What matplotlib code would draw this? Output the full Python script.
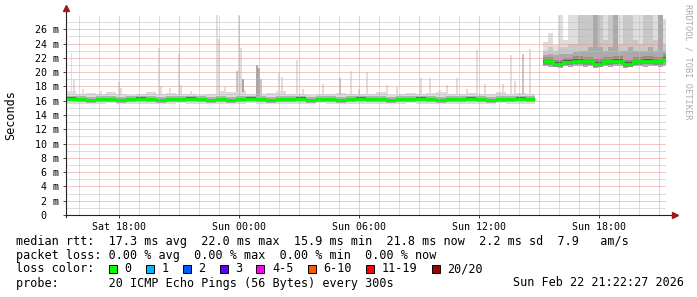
import numpy as np
import matplotlib.pyplot as plt
from matplotlib.patches import Rectangle

W, H = 697, 297
MONO = "DejaVu Sans Mono"

# ---- data (hours since Sat 15:22:27, values in ms) ----
label_hours = [2.626, 8.626, 14.626, 20.626, 26.626]
hour_labels = ["Sat 18:00", "Sun 00:00", "Sun 06:00", "Sun 12:00", "Sun 18:00"]
first_full_hour = 0.626

y_ticks = list(range(0, 27, 2))
y_labels = ["0  "] + ["%d m" % v for v in y_ticks[1:]]

# first segment: 30 min bins, Sat 15:22 .. Sun 14:49
seg_a_end = 23.45
median_a = [16.3, 16.2, 16.1, 16.2, 16.2, 16.1, 16.2, 16.3, 16.2, 16.1,
            16.2, 16.2, 16.3, 16.2, 16.1, 16.2, 16.1, 16.2, 16.3, 16.2,
            16.1, 16.2, 16.2, 16.3, 16.1, 16.2, 16.2, 16.1, 16.2, 16.3,
            16.2, 16.2, 16.1, 16.2, 16.2, 16.3, 16.2, 16.1, 16.2, 16.2,
            16.3, 16.2, 16.1, 16.2, 16.2, 16.3, 16.2]
smoke_lo_a = [15.6, 15.5, 15.6, 15.6, 15.7, 15.5, 15.6, 15.6, 15.5, 15.6,
              15.6, 15.7, 15.6, 15.5, 15.6, 15.6, 15.5, 15.6, 15.7, 15.6,
              15.5, 15.6, 15.6, 15.6, 15.5, 15.7, 15.6, 15.6, 15.5, 15.6,
              15.6, 15.6, 15.5, 15.6, 15.7, 15.6, 15.6, 15.5, 15.6, 15.6,
              15.5, 15.6, 15.6, 15.7, 15.6, 15.5, 15.6]
smoke_hi_a = [17.3, 17.0, 17.1, 16.9, 17.2, 16.9, 16.8, 17.0, 17.2, 16.9,
              17.1, 16.9, 17.0, 16.8, 17.0, 17.4, 17.2, 17.5, 17.0, 16.9,
              17.1, 17.3, 16.9, 17.0, 16.8, 17.0, 16.9, 17.1, 17.0, 16.9,
              16.9, 17.2, 16.8, 17.0, 17.1, 16.9, 17.1, 17.2, 16.9, 17.0,
              17.1, 16.9, 17.0, 17.2, 17.0, 17.1, 16.9]

# single 5 minute spikes in the first segment
spike_hours = [0.23, 0.35, 0.8, 1.7, 2.6, 2.7, 4.6, 4.7, 5.15, 5.6,
               5.7, 6.2, 7.5, 7.6, 7.9, 8.5, 8.6, 8.7, 8.8, 9.5,
               9.6, 9.7, 10.6, 10.75, 11.5, 11.8, 12.8, 13.65, 14.2, 14.6,
               15.0, 16.0, 16.5, 17.7, 18.15, 18.65, 19.0, 19.5, 20.0, 20.5,
               20.9, 21.8, 22.2, 22.4, 22.8, 23.15]
spike_tops = [22.7, 18.9, 17.6, 17.4, 18.6, 17.8, 23.4, 18.0, 17.8, 22.7,
              18.2, 17.4, 28.0, 24.6, 17.9, 20.2, 28.0, 23.4, 19.0, 21.0,
              20.6, 19.0, 19.9, 19.3, 21.7, 17.6, 18.3, 19.2, 20.2, 17.6,
              20.0, 18.2, 17.9, 19.2, 19.2, 17.5, 18.2, 19.2, 17.6, 23.1,
              18.3, 18.3, 22.4, 18.8, 22.6, 23.2]
spike_pings = [1, 1, 1, 1, 1, 1, 1, 1, 1, 1,
               1, 1, 1, 1, 1, 2, 1, 1, 3, 3,
               3, 2, 1, 1, 1, 1, 1, 2, 1, 1,
               1, 1, 1, 1, 1, 1, 1, 1, 1, 1,
               1, 1, 1, 1, 2, 1]

# second segment: after the gap, Sun 15:13 .. 21:22
seg_b_start = 23.85
median_b = [21.5, 21.1, 21.4, 21.6, 21.5, 21.2, 21.5, 21.6, 21.1, 21.5,
            21.6, 21.5, 21.9]                     # 30 min bins
smoke_lo_b = [20.8, 20.7, 20.9, 20.6, 20.8, 20.7, 20.9, 20.8, 20.7, 20.8,
              20.6, 20.8, 20.9, 20.7, 20.8, 20.8, 20.6, 20.7, 20.9, 20.8,
              20.7, 20.8, 20.8, 20.7, 20.9]       # 15 min bins
smoke_max_b = [24.2, 25.5, 23.8, 28.0, 24.5, 28.0, 28.0, 28.0, 28.0, 28.0,
               28.0, 28.0, 28.0, 28.0, 28.0, 28.0, 28.0, 28.0, 28.0, 28.0,
               28.0, 28.0, 28.0, 28.0, 27.5]
smoke_p90_b = [23.0, 23.5, 23.0, 23.5, 23.5, 24.0, 24.0, 28.0, 28.0, 28.0,
               28.0, 28.0, 24.5, 28.0, 28.0, 24.0, 28.0, 28.0, 24.5, 24.0,
               28.0, 28.0, 24.5, 28.0, 24.0]
smoke_p75_b = [22.4, 22.5, 22.4, 22.5, 22.5, 22.6, 22.8, 23.0, 23.0, 23.5,
               28.0, 23.5, 23.0, 23.5, 28.0, 23.0, 23.0, 23.5, 23.0, 23.0,
               23.0, 23.5, 23.0, 28.0, 23.0]

legend_rows = [
    "median rtt:  17.3 ms avg  22.0 ms max  15.9 ms min  21.8 ms now  2.2 ms sd  7.9   am/s",
    "packet loss: 0.00 % avg  0.00 % max  0.00 % min  0.00 % now",
]
loss_labels = ["0", "1", "2", "3", "4-5", "6-10", "11-19", "20/20"]
loss_colors = ["#00ff00", "#00b8ff", "#0059ff", "#5e00ff",
               "#ff00fe", "#ff5500", "#ff0000", "#a10000"]
probe_text = "probe:       20 ICMP Echo Pings (56 Bytes) every 300s"
stamp_text = "Sun Feb 22 21:22:27 2026"


def step_fill(ax, start, width, end, lo, hi, color, z):
    x = start + width * np.arange(len(lo) + 1)
    x[-1] = min(x[-1], end)
    lo = np.append(lo, lo[-1])
    hi = np.append(hi, hi[-1])
    ax.fill_between(x, lo, hi, step="post", color=color, lw=0, zorder=z)


def step_line(ax, start, width, end, vals):
    x = start + width * np.arange(len(vals) + 1)
    x[-1] = min(x[-1], end)
    ax.step(x, np.append(vals, vals[-1]), where="post", color="#00ff00",
            lw=2.0, zorder=6, solid_capstyle="butt")


plt.rcParams["lines.scale_dashes"] = False

fig = plt.figure(figsize=(W / 100, H / 100), dpi=100)
fig.patch.set_facecolor("white")
ax = fig.add_axes([66 / W, (H - 215) / H, 600 / W, 200 / H])
ax.set_xlim(0, 30)
ax.set_ylim(0, 28)
for s in ax.spines.values():
    s.set_visible(False)

med_a = np.array(median_a)
med_b = np.array(median_b)

# smoke, first segment
step_fill(ax, 0, 0.5, seg_a_end, smoke_lo_a, smoke_hi_a, "#dcdcdc", 1)
step_fill(ax, 0, 0.5, seg_a_end, med_a - 0.4, med_a + 0.4, "#b0b0b0", 2)
step_fill(ax, 0, 0.5, seg_a_end, med_a - 0.25, med_a + 0.2, "#686868", 2)
shade = {1: "#dedede", 2: "#c6c6c6", 3: "#a8a8a8"}
base = np.array(smoke_hi_a)[np.clip((np.array(spike_hours) / 0.5).astype(int), 0, len(smoke_hi_a) - 1)] - 0.3
ax.bar(spike_hours, np.array(spike_tops) - base, bottom=base, width=1 / 12,
       align="edge", color=[shade[p] for p in spike_pings], lw=0, zorder=1)

# smoke, second segment
step_fill(ax, seg_b_start, 0.25, 30, smoke_lo_b, smoke_max_b, "#dedede", 1)
step_fill(ax, seg_b_start, 0.25, 30, smoke_lo_b, smoke_p90_b, "#c8c8c8", 1)
step_fill(ax, seg_b_start, 0.25, 30, smoke_lo_b, smoke_p75_b, "#aaaaaa", 1)
step_fill(ax, seg_b_start, 0.5, 30, med_b - 0.45, med_b + 0.6, "#8e8e8e", 2)
step_fill(ax, seg_b_start, 0.5, 30, med_b - 0.2, med_b + 0.25, "#5c5c5c", 2)

# grid (rrdtool style dotted: 1px on, 1px off)
dots = (0, (0.72, 0.72))
for h in np.arange(first_full_hour, 30, 1.0):
    k = (h - label_hours[0]) / 3.0
    major = abs(k - round(k)) < 1e-6
    ax.axvline(h, color="#ec8c8c" if major else "#bcbcbc", lw=0.72,
               ls=dots, zorder=3)
for v in range(1, 28):
    ax.axhline(v, color="#ec8c8c" if v % 2 == 0 else "#bcbcbc", lw=0.72,
               ls=dots, zorder=3)

# median lines
step_line(ax, 0, 0.5, seg_a_end, med_a)
step_line(ax, seg_b_start, 0.5, 30, med_b)

# axes with arrows
ax.plot([0, 1.013], [0, 0], transform=ax.transAxes, color="#222222", lw=0.8,
        clip_on=False, zorder=7)
ax.plot([0, 0], [-0.01, 1.03], transform=ax.transAxes, color="#222222", lw=0.8,
        clip_on=False, zorder=7)
ax.plot([1.015], [0], marker=">", ms=4, color="#a01818", transform=ax.transAxes,
        clip_on=False, zorder=8)
ax.plot([0], [1.033], marker="^", ms=4, color="#a01818", transform=ax.transAxes,
        clip_on=False, zorder=8)

ax.set_xticks(label_hours)
ax.set_xticklabels(hour_labels, fontfamily=MONO, fontsize=7.2)
ax.set_yticks(y_ticks)
ax.set_yticklabels(y_labels, fontfamily=MONO, fontsize=7.2)
ax.tick_params(axis="both", length=2.2, width=0.7, color="#444444", pad=3)
ax.set_ylabel("Seconds", fontfamily=MONO, fontsize=8.5)
ax.yaxis.set_label_coords(-0.082, 0.5)

# vertical credit
fig.text(688 / W, 1 - 4 / H, "RRDTOOL / TOBI OETIKER", rotation=270,
         ha="center", va="top", fontfamily=MONO, fontsize=6.2, color="#aaaaaa")

# legend block
cw = 7.12
x0 = 16
for i, row in enumerate(legend_rows):
    fig.text(x0 / W, 1 - (241 + 14 * i) / H, row, ha="left", va="center",
             fontfamily=MONO, fontsize=8.5, color="black")
fig.text(x0 / W, 1 - 269 / H, "loss color:", ha="left", va="center",
         fontfamily=MONO, fontsize=8.5)
sx = x0 + 13 * cw
for lab, col in zip(loss_labels, loss_colors):
    fig.patches.append(Rectangle(((sx) / W, 1 - 273 / H), 8 / W, 8 / H,
                                 transform=fig.transFigure, facecolor=col,
                                 edgecolor="black", lw=0.7))
    fig.text((sx + 8.5 + cw) / W, 1 - 269 / H, lab, ha="left", va="center",
             fontfamily=MONO, fontsize=8.5)
    sx += 8.5 + cw * (len(lab) + 3)
fig.text(x0 / W, 1 - 283 / H, probe_text, ha="left", va="center",
         fontfamily=MONO, fontsize=8.5)
fig.text(684 / W, 1 - 283 / H, stamp_text, ha="right", va="center",
         fontfamily=MONO, fontsize=8.5)

fig.savefig("out.png", dpi=100, facecolor="white")
